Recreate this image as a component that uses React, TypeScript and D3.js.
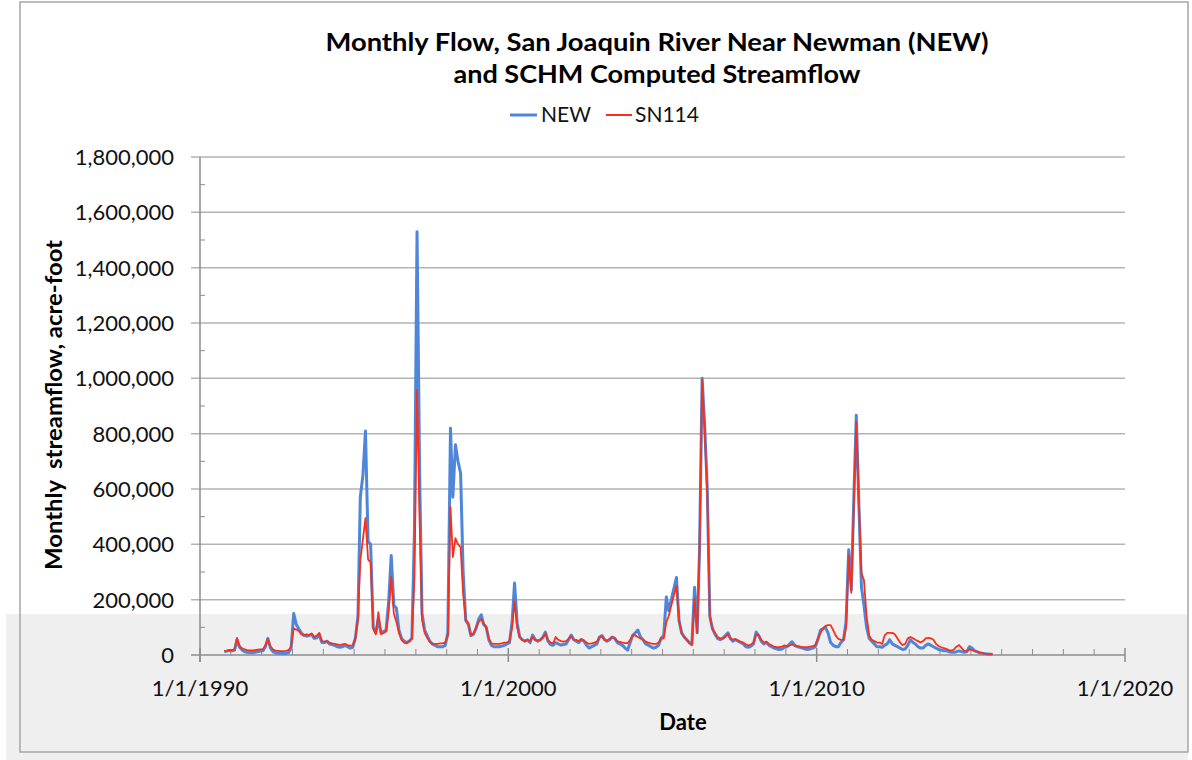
import React from "react";
import * as d3 from "d3";

// Monthly flow, thousand acre-feet, starting October 1990 (one value per month)
const startYear = 1990;
const startMonth = 9; // October (0-based)

const newFlowK: number[] = [
  // 1990 Oct-Dec
  12, 14, 16,
  // 1991
  15, 18, 55, 28, 18, 12, 10, 9, 9, 10, 12, 14,
  // 1992
  15, 30, 60, 25, 12, 8, 6, 5, 5, 6, 8, 25,
  // 1993
  150, 110, 95, 80, 72, 68, 70, 75, 60, 62, 72, 45,
  // 1994
  45, 50, 40, 38, 35, 30, 28, 30, 35, 30, 25, 28,
  // 1995
  60, 140, 570, 650, 810, 410, 400, 100, 80, 130, 80, 85,
  // 1996
  90, 200, 360, 180, 170, 90, 60, 50, 45, 50, 60, 450,
  // 1997
  1530, 650, 150, 90, 70, 50, 40, 35, 30, 30, 30, 35,
  // 1998
  80, 820, 570, 760, 700, 657, 300, 125, 110, 70, 75, 95,
  // 1999
  130, 145, 110, 100, 55, 35, 30, 30, 30, 32, 35, 40,
  // 2000
  45, 120, 260, 115, 65, 55, 50, 55, 45, 72, 55, 50,
  // 2001
  55, 65, 83, 50, 38, 35, 45, 40, 36, 38, 40, 55,
  // 2002
  72, 55, 50, 45, 55, 50, 35, 25, 30, 35, 40, 65,
  // 2003
  70, 55, 50, 55, 65, 60, 45, 40, 35, 25, 18, 45,
  // 2004
  72, 80, 90, 65, 55, 40, 36, 30, 25, 28, 35, 60,
  // 2005
  70, 210, 160, 200, 240, 280, 125, 80, 65, 55, 45, 40,
  // 2006
  245, 80, 380, 1000, 830, 600, 140, 95, 75, 60, 55, 60,
  // 2007
  70, 80, 60, 50, 55, 50, 45, 40, 30, 28, 32, 40,
  // 2008
  83, 70, 50, 40, 45, 35, 30, 25, 22, 20, 22, 28,
  // 2009
  30, 40, 48, 35, 30, 28, 25, 22, 20, 22, 25, 30,
  // 2010
  55, 90, 95, 100, 80, 45, 35, 30, 30, 45, 55, 120,
  // 2011
  380, 235, 550, 867, 550, 245, 180, 100, 60, 50, 40, 30,
  // 2012
  30, 28, 35, 40, 55, 40, 35, 30, 25, 20, 22, 35,
  // 2013
  55, 45, 40, 30, 25, 25, 35, 40, 35, 30, 25, 20,
  // 2014
  18, 15, 15, 12, 10, 10, 12, 15, 12, 10, 12, 30,
  // 2015 Jan-Sep
  25, 15, 12, 8, 6, 5, 4, 3, 3,
];

const sn114FlowK: number[] = [
  // 1990 Oct-Dec
  15, 16, 18,
  // 1991
  18, 20, 62, 32, 24, 20, 18, 17, 17, 18, 19, 20,
  // 1992
  20, 35, 58, 30, 20, 16, 15, 14, 14, 15, 18, 30,
  // 1993
  95, 92, 88, 75, 70, 75, 72, 78, 65, 70, 80, 50,
  // 1994
  48, 50, 45, 42, 40, 38, 36, 38, 40, 36, 34, 35,
  // 1995
  60, 130, 343, 420, 495, 345, 336, 95, 75, 155, 75, 80,
  // 1996
  85, 160, 282, 150, 120, 80, 55, 45, 42, 50, 60, 280,
  // 1997
  957, 480, 130, 80, 62, 48, 40, 40, 40, 42, 42, 45,
  // 1998
  70, 535, 354, 422, 400, 390, 220, 125, 115, 72, 78, 100,
  // 1999
  120, 130, 115, 100, 60, 42, 40, 40, 40, 42, 45, 45,
  // 2000
  50, 100, 195, 100, 65, 55, 50, 55, 50, 65, 55, 52,
  // 2001
  55, 62, 78, 55, 45, 42, 65, 55, 50, 48, 50, 58,
  // 2002
  68, 55, 55, 50, 58, 52, 45, 40, 42, 45, 48, 62,
  // 2003
  68, 55, 52, 58, 65, 60, 50, 47, 45, 43, 43, 55,
  // 2004
  72, 70, 65, 60, 55, 48, 45, 42, 40, 40, 45, 60,
  // 2005
  60, 120, 140, 180, 215, 250, 125, 80, 65, 55, 42, 35,
  // 2006
  205, 80, 380, 995, 810, 580, 140, 95, 80, 65, 60, 60,
  // 2007
  65, 75, 60, 55, 58, 52, 48, 45, 38, 35, 38, 45,
  // 2008
  75, 70, 55, 45, 48, 40, 35, 30, 28, 28, 30, 35,
  // 2009
  32, 35, 38, 35, 32, 30, 28, 28, 28, 30, 32, 35,
  // 2010
  60, 80, 95, 105, 108, 108, 90, 70, 58, 55, 55, 100,
  // 2011
  360, 225, 520, 842, 560, 296, 270, 140, 70, 55, 50, 45,
  // 2012
  45, 40, 70, 80, 80, 80, 75, 60, 45, 36, 40, 60,
  // 2013
  65, 60, 55, 50, 45, 50, 60, 62, 60, 55, 40, 32,
  // 2014
  28, 25, 22, 18, 16, 20, 30, 36, 25, 15, 14, 20,
  // 2015 Jan-Sep
  18, 14, 12, 9, 7, 5, 4, 3, 3,
];

const yTickValues = [0, 200000, 400000, 600000, 800000, 1000000, 1200000, 1400000, 1600000, 1800000];
const xTickYears = [1990, 2000, 2010, 2020];
const seriesNames = ["NEW", "SN114"];
const seriesColors = ["#4f86d9", "#f7301c"];

const W = 1192;
const H = 760;
const FONT = "Lato, 'Open Sans', sans-serif";

export default function App() {
  const x = d3
    .scaleTime()
    .domain([new Date(1990, 0, 1), new Date(2020, 0, 1)])
    .range([200, 1125]);
  const y = d3.scaleLinear().domain([0, 1800000]).range([655, 157]);

  const dates = newFlowK.map((_, i) => new Date(startYear, startMonth + i, 15));
  const seriesData = [newFlowK, sn114FlowK].map((arr) =>
    arr.map((v, i) => ({ date: dates[i], value: v * 1000 }))
  );

  const line = d3
    .line<{ date: Date; value: number }>()
    .x((d) => x(d.date))
    .y((d) => y(d.value));

  const fmt = d3.format(",");
  const minorY = d3.range(100000, 1800000, 200000);
  const minorX = d3.range(1991, 2020).filter((yy) => yy % 10 !== 0);

  const gridColor = "#b3b3b3";
  const axisColor = "#8c8c8c";

  return (
    <svg
      width={W}
      height={H}
      style={{ position: "absolute", left: 0, top: 0, background: "#fff" }}
      fontFamily={FONT}
    >
      {/* light gray band at the bottom */}
      <rect x={6} y={614} width={1182} height={146} fill="#efefef" />
      {/* chart border */}
      <rect x={20} y={2} width={1168} height={750} fill="none" stroke="#a6a6a6" strokeWidth={1.5} />

      {/* title */}
      <text x={657} y={51} textAnchor="middle" fontSize={24} fontWeight="bold" textLength={663} lengthAdjust="spacingAndGlyphs" fill="#000">
        Monthly Flow, San Joaquin River Near Newman (NEW)
      </text>
      <text x={657} y={83} textAnchor="middle" fontSize={24} fontWeight="bold" textLength={407} lengthAdjust="spacingAndGlyphs" fill="#000">
        and SCHM Computed Streamflow
      </text>

      {/* legend */}
      <line x1={510} x2={537} y1={115} y2={115} stroke={seriesColors[0]} strokeWidth={3} />
      <text x={541} y={122} fontSize={21} fill="#111">{seriesNames[0]}</text>
      <line x1={606} x2={632} y1={115} y2={115} stroke={seriesColors[1]} strokeWidth={2} />
      <text x={635} y={122} fontSize={21} fill="#111">{seriesNames[1]}</text>

      {/* gridlines & y ticks */}
      {yTickValues.map((v) => (
        <g key={v}>
          {v > 0 && (
            <line x1={191} x2={1125} y1={y(v)} y2={y(v)} stroke={gridColor} strokeWidth={1.5} />
          )}
          <text x={174} y={y(v) + 8} textAnchor="end" fontSize={22} fill="#111">
            {fmt(v)}
          </text>
        </g>
      ))}
      {minorY.map((v) => (
        <line key={v} x1={200} x2={205} y1={y(v)} y2={y(v)} stroke={axisColor} strokeWidth={1} />
      ))}

      {/* y axis */}
      <line x1={200} x2={200} y1={157} y2={662} stroke={axisColor} strokeWidth={1.5} />
      {/* x axis */}
      <line x1={191} x2={1125} y1={655} y2={655} stroke={axisColor} strokeWidth={1.5} />
      {xTickYears.map((yr) => {
        const xx = x(new Date(yr, 0, 1));
        return (
          <g key={yr}>
            <line x1={xx} x2={xx} y1={648} y2={662} stroke={axisColor} strokeWidth={1.5} />
            <text x={xx} y={696} textAnchor="middle" fontSize={22} fill="#111">
              {`1/1/${yr}`}
            </text>
          </g>
        );
      })}
      {minorX.map((yr) => {
        const xx = x(new Date(yr, 0, 1));
        return <line key={yr} x1={xx} x2={xx} y1={649} y2={655} stroke={axisColor} strokeWidth={1} />;
      })}

      {/* axis titles */}
      <text x={683} y={730} textAnchor="middle" fontSize={22} fontWeight="bold" fill="#000">
        Date
      </text>
      <text
        transform="translate(62,405) rotate(-90)"
        textAnchor="middle"
        fontSize={22}
        fontWeight="bold"
        fill="#000"
        textLength={330}
        lengthAdjust="spacingAndGlyphs"
        style={{ whiteSpace: "pre" }}
      >
        {"Monthly  streamflow, acre-foot"}
      </text>

      {/* series */}
      <path d={line(seriesData[0]) || ""} fill="none" stroke={seriesColors[0]} strokeWidth={3} strokeLinejoin="round" />
      <path d={line(seriesData[1]) || ""} fill="none" stroke={seriesColors[1]} strokeWidth={1.8} strokeLinejoin="round" />
    </svg>
  );
}
